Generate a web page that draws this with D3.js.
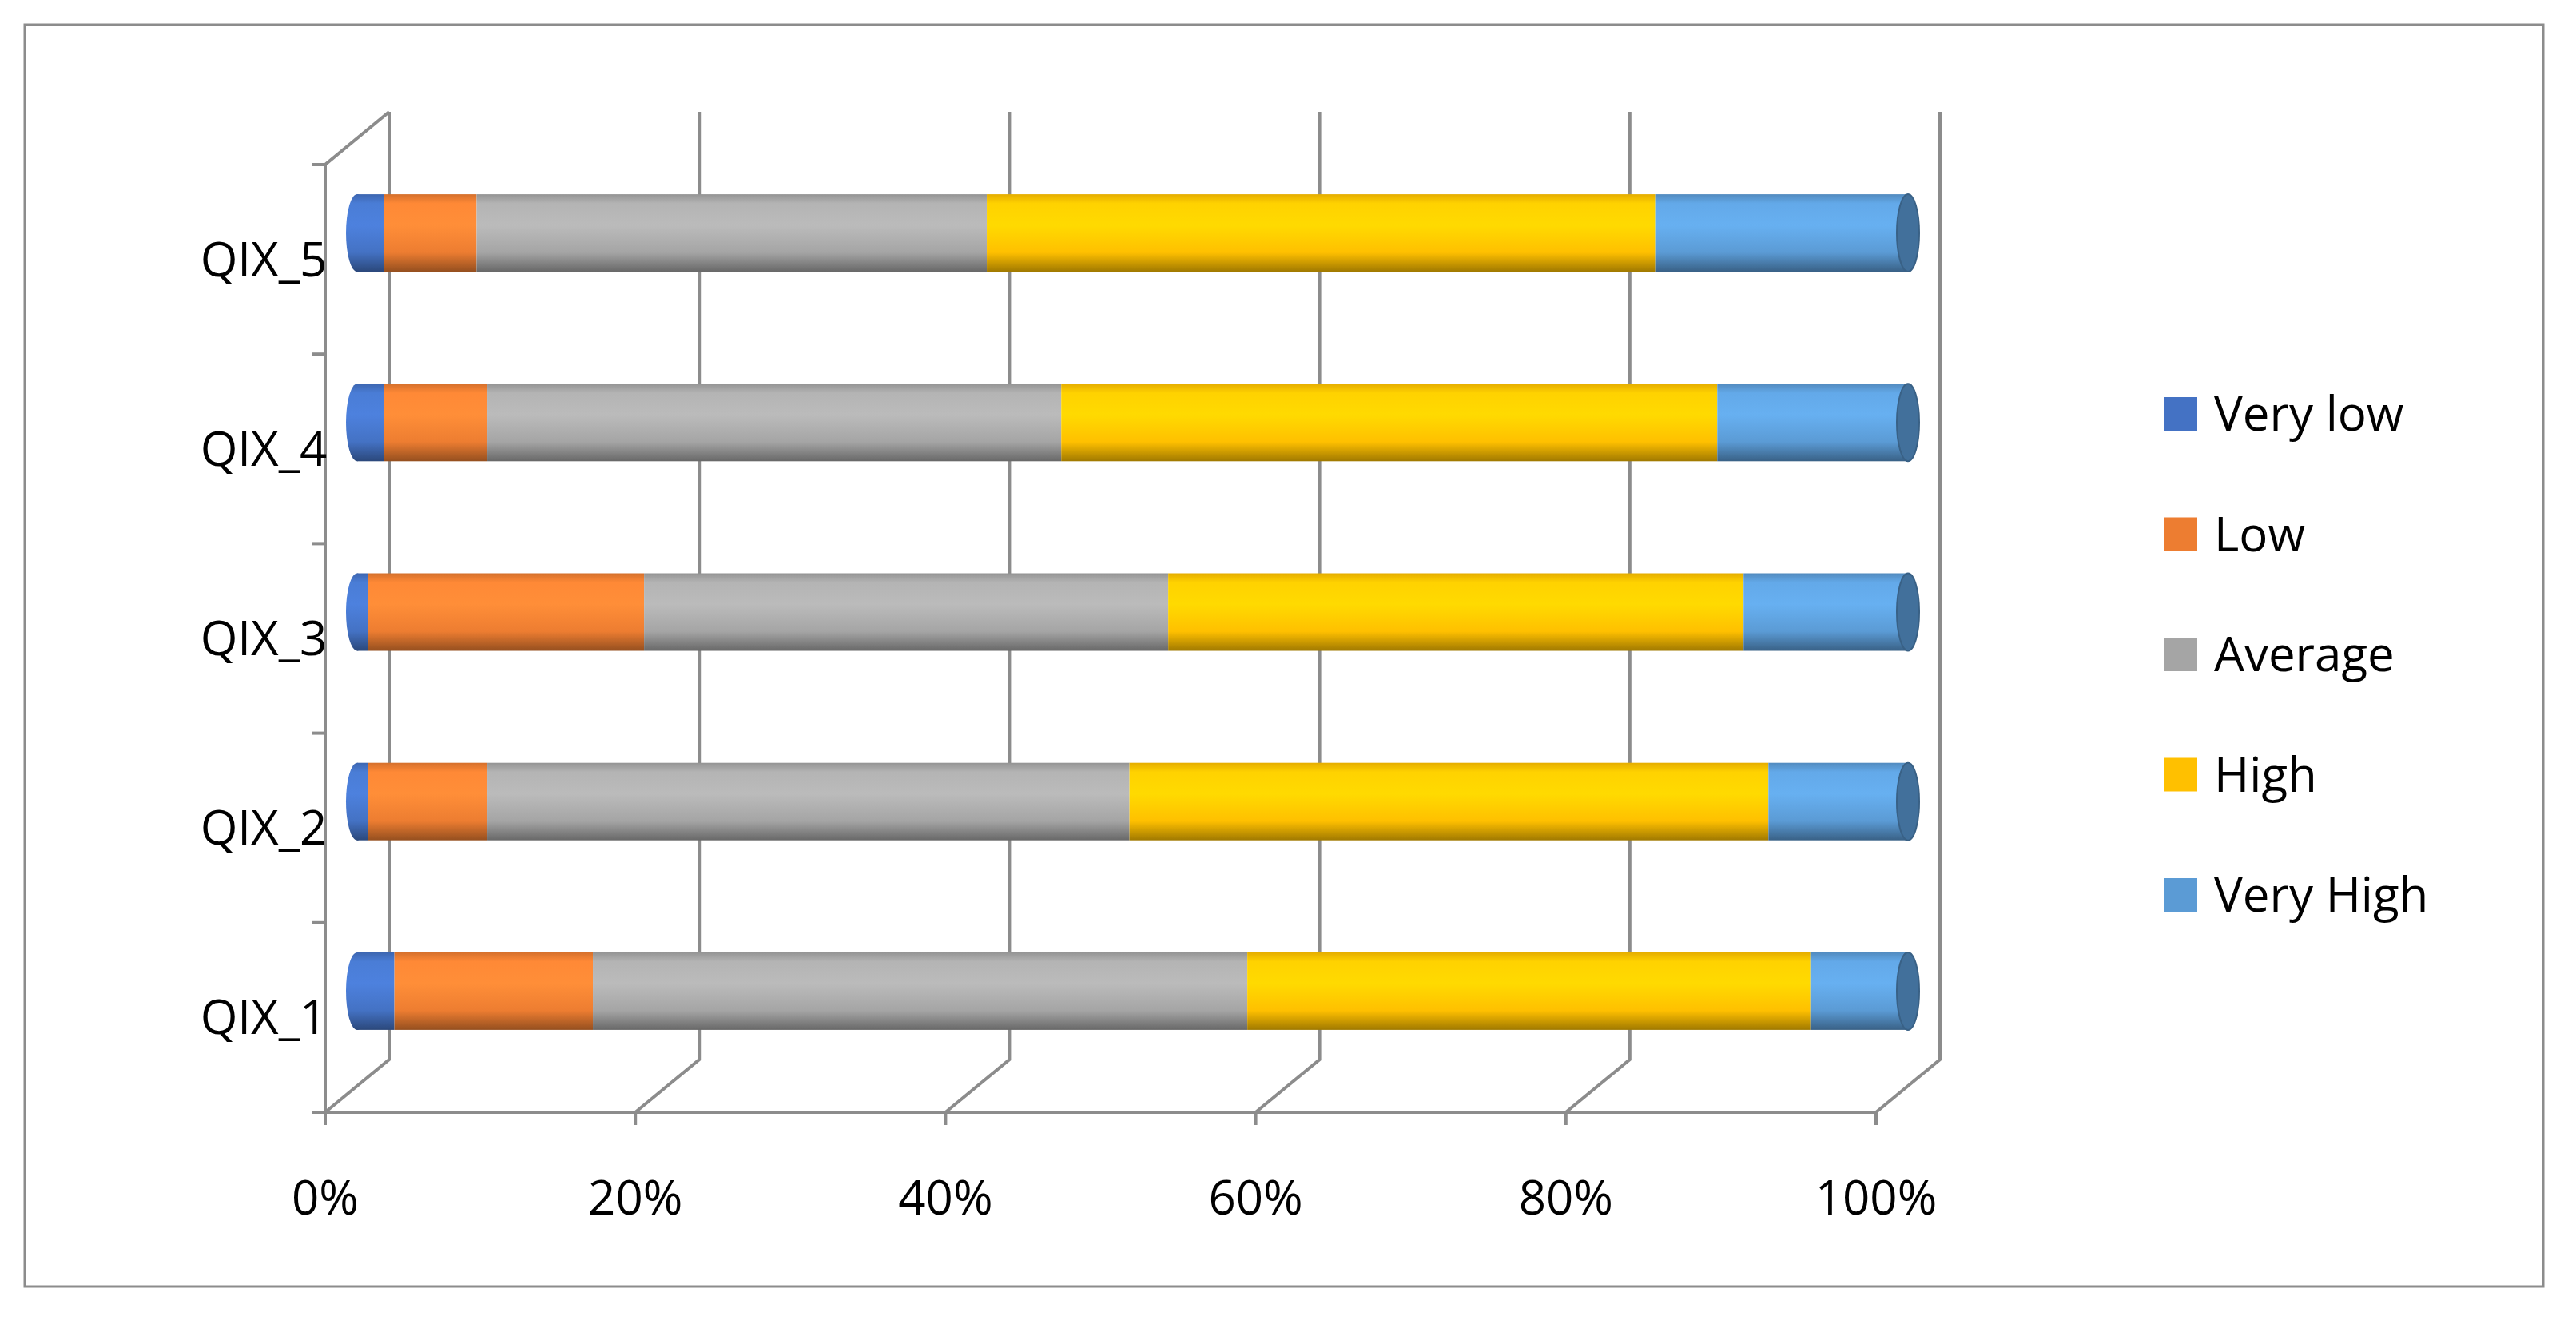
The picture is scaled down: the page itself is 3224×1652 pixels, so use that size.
<!DOCTYPE html>
<html><head><meta charset="utf-8">
<script src="https://cdn.jsdelivr.net/npm/d3@7"></script>
<style>body{margin:0;background:#fff}</style>
</head><body><svg id="chart" width="3224" height="1652"></svg>
<script>
// data (percent of each row)
const categories = ['QIX_1', 'QIX_2', 'QIX_3', 'QIX_4', 'QIX_5'];
const seriesNames = ['Very low', 'Low', 'Average', 'High', 'Very High'];
const veryLow  = [2.4, 0.7, 0.7, 1.7, 1.7];
const low      = [12.8, 7.7, 17.8, 6.7, 6.0];
const average  = [42.2, 41.4, 33.8, 37.0, 32.9];
const high     = [36.3, 41.2, 37.1, 42.3, 43.1];
const veryHigh = [6.3, 9.0, 10.6, 12.3, 16.3];
const tickLabels = ['0%', '20%', '40%', '60%', '80%', '100%'];
const colors = ['#4472c4', '#ed7d31', '#a5a5a5', '#ffc000', '#5b9bd5'];

const svg = d3.select('#chart');
const font = '"Open Sans", "Liberation Sans", sans-serif';
const dx = 80, dy = -66; // 3d depth offset

// outer frame
svg.append('rect').attr('x', 31).attr('y', 31).attr('width', 3152).attr('height', 1579)
  .attr('fill', 'none').attr('stroke', '#8c8c8c').attr('stroke-width', 3);

const x = d3.scaleLinear().domain([0, 100]).range([407, 2348]);
const y = d3.scaleBand().domain(categories.slice().reverse()).range([206, 1392]);

const grid = svg.append('g').attr('stroke', '#8c8c8c').attr('stroke-width', 4).attr('fill', 'none');
// back wall verticals + floor diagonals
d3.range(0, 101, 20).forEach(v => {
  const fx = x(v);
  grid.append('path').attr('d', `M${fx + dx},${206 + dy}V${1392 + dy}L${fx},1392`);
  grid.append('line').attr('x1', fx).attr('x2', fx).attr('y1', 1392).attr('y2', 1408);
});
grid.append('path').attr('d', `M${x(0)},1392V206L${x(0) + dx},${206 + dy}`);
grid.append('line').attr('x1', x(0)).attr('x2', x(100)).attr('y1', 1392).attr('y2', 1392);
y.domain().forEach(c => grid.append('line').attr('x1', x(0) - 16).attr('x2', x(0))
  .attr('y1', y(c)).attr('y2', y(c)));
grid.append('line').attr('x1', x(0) - 16).attr('x2', x(0)).attr('y1', 1392).attr('y2', 1392);

// x tick labels
svg.append('g').selectAll('text').data(tickLabels).join('text')
  .attr('x', (d, i) => x(i * 20)).attr('y', 1520).attr('text-anchor', 'middle')
  .attr('font-family', font).attr('font-size', 60).attr('fill', '#000').text(d => d);

// category labels
svg.append('g').selectAll('text').data(categories).join('text')
  .attr('x', 330).attr('y', d => y(d) + y.bandwidth() / 2 + 21).attr('text-anchor', 'middle')
  .attr('font-family', font).attr('font-size', 60).attr('fill', '#000').text(d => d);

// gradients for the cylinders
const defs = svg.append('defs');
colors.forEach((c, i) => {
  const g = defs.append('linearGradient').attr('id', 'g' + i)
    .attr('x1', 0).attr('x2', 0).attr('y1', 0).attr('y2', 1);
  const base = d3.color(c);
  [[0, base.darker(0.3)], [0.12, base.brighter(0.25)], [0.4, base.brighter(0.35)],
   [0.75, base], [1, base.darker(1.3)]]
    .forEach(([o, col]) => g.append('stop').attr('offset', o).attr('stop-color', col));
});

const series = [veryLow, low, average, high, veryHigh];
const barH = 97, rx = 14;
const bars = svg.append('g');
categories.forEach((cat, ci) => {
  const cy = y(cat) + y.bandwidth() / 2 + dy / 2;
  let acc = 0;
  // left cap
  bars.append('ellipse').attr('cx', x(0) + dx / 2).attr('cy', cy).attr('rx', rx).attr('ry', barH / 2)
    .attr('fill', 'url(#g0)');
  series.forEach((s, si) => {
    const v = s[ci];
    bars.append('rect').attr('x', x(acc) + dx / 2).attr('y', cy - barH / 2)
      .attr('width', x(acc + v) - x(acc)).attr('height', barH).attr('fill', `url(#g${si})`);
    acc += v;
  });
  // right end cap
  bars.append('ellipse').attr('cx', x(100) + dx / 2).attr('cy', cy).attr('rx', rx).attr('ry', barH / 2)
    .attr('fill', d3.color(colors[4]).darker(0.9)).attr('stroke', d3.color(colors[4]).darker(1.3)).attr('stroke-width', 2);
});

// legend
const legend = svg.append('g').selectAll('g').data(seriesNames).join('g')
  .attr('transform', (d, i) => `translate(2708,${518 + i * 150.5})`);
legend.append('rect').attr('x', 0).attr('y', -21).attr('width', 42).attr('height', 42)
  .attr('fill', (d, i) => colors[i]);
legend.append('text').attr('x', 63).attr('y', 21).attr('font-family', font).attr('font-size', 60)
  .attr('fill', '#000').text(d => d);
</script></body></html>
